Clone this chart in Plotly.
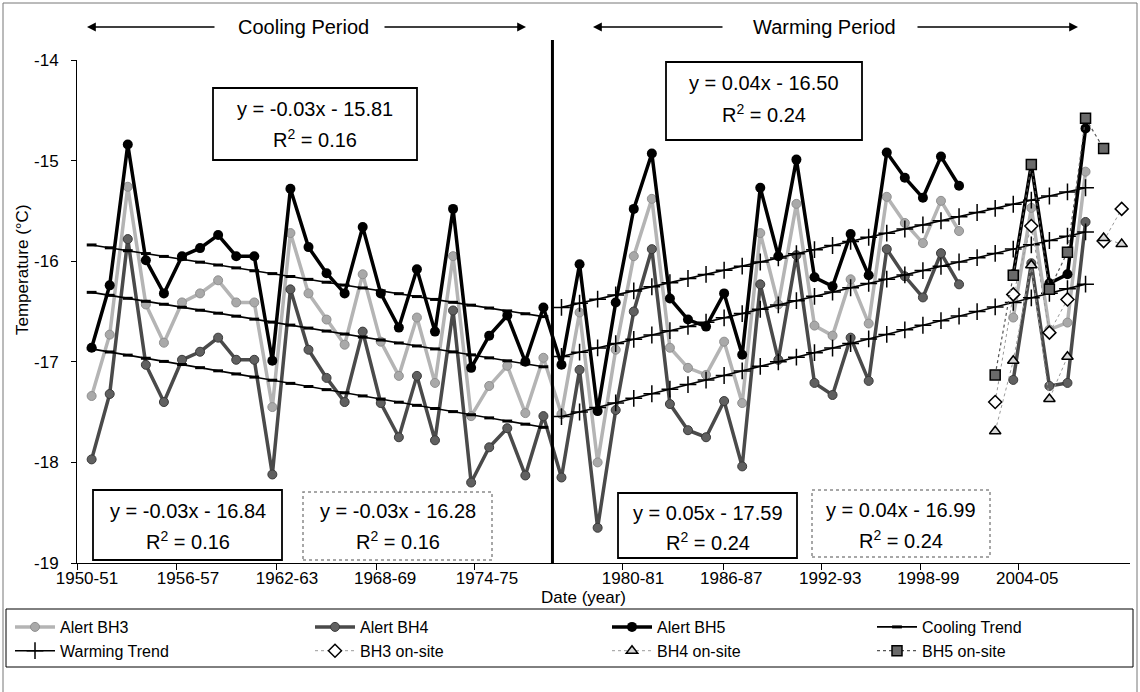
import plotly.graph_objects as go

# ---------------------------------------------------------------------------
# Data: mean annual ground temperature (deg C), one value per season.
# Season start year 1950 -> "1950-51".
# ---------------------------------------------------------------------------
season_start = list(range(1950, 2008))

alert_bh3 = [
    -17.34, -16.73, -15.26, -16.43, -16.81, -16.41, -16.32, -16.19, -16.41, -16.41,
    -17.45, -15.72, -16.32, -16.58, -16.83, -16.13, -16.80, -17.14, -16.56, -17.21,
    -15.95, -17.54, -17.24, -17.04, -17.51, -16.96, -17.52, -16.51, -18.00, -16.88,
    -15.95, -15.38, -16.86, -17.06, -17.13, -16.80, -17.41, -15.72, -16.43, -15.43,
    -16.64, -16.74, -16.18, -16.62, -15.36, -15.62, -15.82, -15.40, -15.70, None,
    None, -16.56, -15.47, -16.68, -16.61, -15.11, None, None,
]
alert_bh4 = [
    -17.97, -17.32, -15.78, -17.03, -17.40, -16.98, -16.90, -16.76, -16.98, -16.98,
    -18.12, -16.28, -16.88, -17.16, -17.40, -16.70, -17.41, -17.75, -17.14, -17.78,
    -16.49, -18.20, -17.85, -17.66, -18.13, -17.54, -18.15, -17.08, -18.65, -17.48,
    -16.50, -15.88, -17.42, -17.68, -17.75, -17.39, -18.04, -16.23, -16.98, -15.94,
    -17.21, -17.33, -16.76, -17.19, -15.88, -16.15, -16.36, -15.92, -16.23, None,
    None, -17.18, -16.02, -17.24, -17.21, -15.61, None, None,
]
alert_bh5 = [
    -16.86, -16.24, -14.84, -15.99, -16.32, -15.95, -15.87, -15.74, -15.95, -15.95,
    -16.99, -15.28, -15.86, -16.12, -16.32, -15.66, -16.32, -16.66, -16.08, -16.70,
    -15.48, -17.06, -16.74, -16.54, -17.00, -16.46, -17.03, -16.03, -17.49, -16.41,
    -15.48, -14.93, -16.37, -16.58, -16.65, -16.32, -16.93, -15.27, -15.95, -14.99,
    -16.16, -16.25, -15.73, -16.14, -14.92, -15.17, -15.37, -14.96, -15.25, None,
    None, -16.13, -15.04, -16.22, -16.13, -14.68, None, None,
]

onsite_start = list(range(2000, 2008))
onsite_bh3 = [-17.40, -16.33, -15.65, -16.71, -16.38, None, -15.80, -15.48]
onsite_bh4 = [-17.69, -16.99, -16.04, -17.37, -16.95, None, -15.77, -15.83]
onsite_bh5 = [-17.13, -16.14, -15.04, -16.28, -15.91, -14.58, -14.88, None]

# Linear trends, x counted in seasons from the start of each period (BH5, BH3, BH4)
cooling_first, cooling_count = 1950, 26
warming_first, warming_count = 1976, 30
cooling_slopes = [-0.0285, -0.0296, -0.0312]
cooling_intercepts = [-15.81, -16.28, -16.84]
cooling_r2 = [0.16, 0.16, 0.16]
warming_slopes = [0.0410, 0.0427, 0.0454]
warming_intercepts = [-16.50, -16.99, -17.59]
warming_r2 = [0.24, 0.24, 0.24]

tick_labels = ["1950-51", "1956-57", "1962-63", "1968-69", "1974-75",
               "1980-81", "1986-87", "1992-93", "1998-99", "2004-05"]
y_labels = ["-19", "-18", "-17", "-16", "-15", "-14"]
y_values = [-19, -18, -17, -16, -15, -14]

# ---------------------------------------------------------------------------
# Layout geometry (pixels)
# ---------------------------------------------------------------------------
W, H = 1140, 692
L, R, T, B = 77, 1130, 60, 563
X_RANGE = [1949.19, 2007.46]
label_pos = [1949.74, 1955.33, 1960.81, 1966.24, 1971.88,
             1979.96, 1985.39, 1990.87, 1996.30, 2001.77]
tick_pos = [1949.19, 1954.72, 1960.25, 1965.79, 1971.21,
            1979.40, 1984.94, 1990.41, 1995.84, 2001.31]

FONT = "Liberation Sans, Arial, sans-serif"
BOX_FONT = 20
LEGEND_FONT = 16
TICK_FONT = 17


def px(xp):
    return (xp - L) / (R - L)


def py(yp):
    return (B - yp) / (B - T)


def eq_text(m, b):
    sign = "-" if b < 0 else "+"
    return f"y = {m:.2f}x {sign} {abs(b):.2f}"


def label(text, xp, yp, size, angle=0):
    return dict(text=text, x=px(xp), y=py(yp), xref="paper", yref="paper",
                xanchor="center", yanchor="middle", showarrow=False,
                textangle=angle, font=dict(size=size))


fig = go.Figure()

# Alert series
fig.add_trace(go.Scatter(
    x=season_start, y=alert_bh3, name="Alert BH3", mode="lines+markers",
    line=dict(color="#b4b4b4", width=3.5),
    marker=dict(symbol="circle", size=9, color="#a9a9a9",
                line=dict(color="#8f8f8f", width=1)),
    legend="legend", legendrank=1))
fig.add_trace(go.Scatter(
    x=season_start, y=alert_bh4, name="Alert BH4", mode="lines+markers",
    line=dict(color="#4a4a4a", width=3.5),
    marker=dict(symbol="circle", size=9, color="#606060",
                line=dict(color="#3a3a3a", width=1)),
    legend="legend2", legendrank=1))
fig.add_trace(go.Scatter(
    x=season_start, y=alert_bh5, name="Alert BH5", mode="lines+markers",
    line=dict(color="#000000", width=3.5),
    marker=dict(symbol="circle", size=10, color="#000000"),
    legend="legend3", legendrank=1))

# Trend lines
for i in range(3):
    ks = list(range(1, cooling_count + 1))
    fig.add_trace(go.Scatter(
        x=[cooling_first + k - 1 for k in ks],
        y=[cooling_slopes[i] * k + cooling_intercepts[i] for k in ks],
        name="Cooling Trend", legendgroup="cool", showlegend=(i == 0),
        mode="lines+markers", line=dict(color="black", width=1.6),
        marker=dict(symbol="line-ew", size=7, color="black",
                    line=dict(color="black", width=3)),
        legend="legend4", legendrank=1))
for i in range(3):
    ks = list(range(1, warming_count + 1))
    fig.add_trace(go.Scatter(
        x=[warming_first + k - 1 for k in ks],
        y=[warming_slopes[i] * k + warming_intercepts[i] for k in ks],
        name="Warming Trend", legendgroup="warm", showlegend=(i == 0),
        mode="lines+markers", line=dict(color="black", width=1.6),
        marker=dict(symbol="cross-thin", size=12, color="black",
                    line=dict(color="black", width=1.5)),
        legend="legend", legendrank=2))

# On-site measurements
fig.add_trace(go.Scatter(
    x=onsite_start, y=onsite_bh3, name="BH3 on-site", mode="lines+markers",
    line=dict(color="#9a9a9a", width=1, dash="dot"),
    marker=dict(symbol="diamond", size=10, color="white",
                line=dict(color="black", width=1.5)),
    legend="legend2", legendrank=2))
fig.add_trace(go.Scatter(
    x=onsite_start, y=onsite_bh4, name="BH4 on-site", mode="lines+markers",
    line=dict(color="#9a9a9a", width=1, dash="dot"),
    marker=dict(symbol="triangle-up", size=10, color="#d8d8d8",
                line=dict(color="black", width=1.5)),
    legend="legend3", legendrank=2))
fig.add_trace(go.Scatter(
    x=onsite_start, y=onsite_bh5, name="BH5 on-site", mode="lines+markers",
    line=dict(color="#555555", width=1.2, dash="dot"),
    marker=dict(symbol="square", size=10, color="#6a6a6a",
                line=dict(color="black", width=1.5)),
    legend="legend4", legendrank=2))

# Helper trace so the tick-mark axis is drawn
fig.add_trace(go.Scatter(x=[None], y=[None], xaxis="x2", showlegend=False,
                         hoverinfo="skip"))

annotations = []
shapes = []

# Period headers with arrows
annotations.append(label("Cooling Period", 303, 27, BOX_FONT))
annotations.append(label("Warming Period", 824, 27, BOX_FONT))
for head, tail in [(87, 216), (526, 383), (593, 724), (1078, 916)]:
    annotations.append(dict(text="", x=px(head), y=py(27), xref="paper", yref="paper",
                            ax=tail - head, ay=0, showarrow=True, arrowhead=2,
                            arrowsize=1.1, arrowwidth=1.6, arrowcolor="black"))

# Trend equation boxes: (x0, y0, x1, y1, dotted, line1 y, line2 y, slope, intercept, r2)
boxes = [
    (213, 88, 417, 160, False, 109, 138, cooling_slopes[0], cooling_intercepts[0], cooling_r2[0]),
    (666, 62, 862, 140, False, 83, 113, warming_slopes[0], warming_intercepts[0], warming_r2[0]),
    (93, 490, 282, 560, False, 511, 540, cooling_slopes[2], cooling_intercepts[2], cooling_r2[2]),
    (303, 492, 492, 560, True, 511, 540, cooling_slopes[1], cooling_intercepts[1], cooling_r2[1]),
    (618, 493, 797, 558, False, 513, 541, warming_slopes[2], warming_intercepts[2], warming_r2[2]),
    (812, 490, 990, 557, True, 510, 539, warming_slopes[1], warming_intercepts[1], warming_r2[1]),
]
for x0, y0, x1, y1, dotted, l1, l2, m, b, r2 in boxes:
    shapes.append(dict(type="rect", xref="paper", yref="paper",
                       x0=px(x0), x1=px(x1), y0=py(y1), y1=py(y0),
                       fillcolor="white", layer="above",
                       line=dict(color="#8a8a8a" if dotted else "black",
                                 width=1.5 if dotted else 1.8,
                                 dash="dot" if dotted else "solid")))
    cx = (x0 + x1) / 2
    annotations.append(label(eq_text(m, b), cx, l1, BOX_FONT))
    annotations.append(label(f"R<sup>2</sup> = {r2:.2f}", cx, l2, BOX_FONT))

# Period divider
shapes.append(dict(type="line", xref="x", yref="paper", x0=1975.5, x1=1975.5,
                   y0=0, y1=py(40), line=dict(color="black", width=3)))
# Legend frame
shapes.append(dict(type="rect", xref="paper", yref="paper", x0=px(6), x1=px(1133),
                   y0=py(667), y1=py(609), line=dict(color="black", width=1)))
# Chart frame
shapes.append(dict(type="rect", xref="paper", yref="paper", x0=px(3), x1=px(1137),
                   y0=py(700), y1=py(3), line=dict(color="#777777", width=1)))

# Axis titles
annotations.append(label("Date (year)", 583, 597, 17))
annotations.append(label("Temperature (°C)", 22, 270, 17, angle=-90))


def legend_column(xp):
    return dict(orientation="v", x=px(xp), y=py(610), xanchor="left",
                yanchor="top", xref="paper", yref="paper",
                bgcolor="rgba(0,0,0,0)", borderwidth=0,
                font=dict(size=LEGEND_FONT), itemwidth=40, tracegroupgap=0)


fig.update_layout(
    width=W, height=H,
    margin=dict(l=L, r=W - R, t=T, b=H - B, autoexpand=False),
    paper_bgcolor="white", plot_bgcolor="white",
    font=dict(family=FONT, size=16, color="black"),
    xaxis=dict(range=X_RANGE, tickvals=label_pos, ticktext=tick_labels,
               ticks="", showline=True, linecolor="black", linewidth=1,
               showgrid=False, zeroline=False, tickfont=dict(size=TICK_FONT)),
    xaxis2=dict(range=X_RANGE, overlaying="x", anchor="y", side="bottom",
                tickvals=tick_pos, ticks="outside", ticklen=6, tickcolor="black",
                showticklabels=False, showline=False, showgrid=False,
                zeroline=False),
    yaxis=dict(range=[-19, -14], tickvals=y_values, ticktext=y_labels,
               ticks="outside", ticklen=5, tickcolor="black", showline=True,
               linecolor="black", linewidth=1, showgrid=False, zeroline=False,
               tickfont=dict(size=TICK_FONT), ticklabelstandoff=9),
    legend=legend_column(10),
    legend2=legend_column(310),
    legend3=legend_column(607),
    legend4=legend_column(872),
    annotations=annotations,
    shapes=shapes,
    showlegend=True,
)

fig.write_html("out.html")
